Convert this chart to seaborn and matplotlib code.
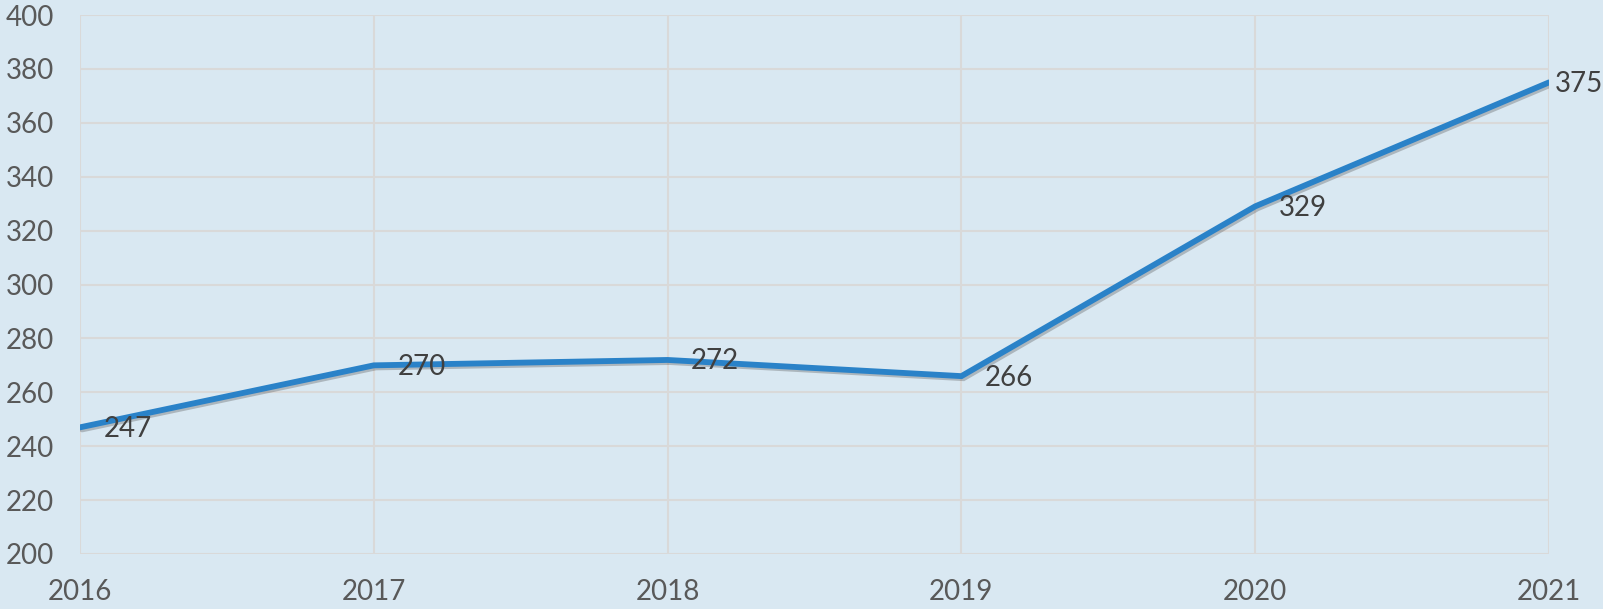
import matplotlib
matplotlib.use("Agg")
import matplotlib.pyplot as plt
import matplotlib.patheffects as pe
import seaborn as sns
import pandas as pd

years = [2016, 2017, 2018, 2019, 2020, 2021]
values = [247, 270, 272, 266, 329, 375]
y_ticks = [200, 220, 240, 260, 280, 300, 320, 340, 360, 380, 400]

bg = "#d9e8f2"
sns.set_theme(style="white")
plt.rcParams["font.family"] = ["Lato", "DejaVu Sans"]

df = pd.DataFrame({"year": years, "value": values})

fig = plt.figure(figsize=(16.03, 6.09), dpi=100, facecolor=bg)
ax = fig.add_axes([80 / 1603, 55 / 609, 1469 / 1603, 539 / 609])
ax.set_facecolor(bg)

sns.lineplot(data=df, x="year", y="value", ax=ax, color="#2a82c8", linewidth=4.2,
             solid_joinstyle="miter",
             path_effects=[pe.SimpleLineShadow(offset=(1.5, -1.5), alpha=0.3, shadow_color="#444444"),
                           pe.Normal()], zorder=3)

ax.set_xlim(years[0], years[-1])
ax.set_ylim(y_ticks[0], y_ticks[-1])
ax.set_xticks(years)
ax.set_xticklabels([str(y) for y in years])
ax.set_yticks(y_ticks)
ax.grid(True, color="#d9d9d9", linewidth=1.5)
for s in ax.spines.values():
    s.set_visible(False)
ax.tick_params(axis="both", length=0, labelsize=20, labelcolor="#595959")
ax.tick_params(axis="y", pad=19)
ax.tick_params(axis="x", pad=18)
ax.set_xlabel("")
ax.set_ylabel("")

for i, (x, y) in enumerate(zip(years, values)):
    dx = 17 if i < len(years) - 1 else 4
    ax.annotate(str(y), (x, y), xytext=(dx, -1), textcoords="offset points",
                ha="left", va="center", fontsize=20, color="#404040",
                annotation_clip=False, zorder=4)

fig.savefig("out.png", dpi=100, facecolor=bg)
